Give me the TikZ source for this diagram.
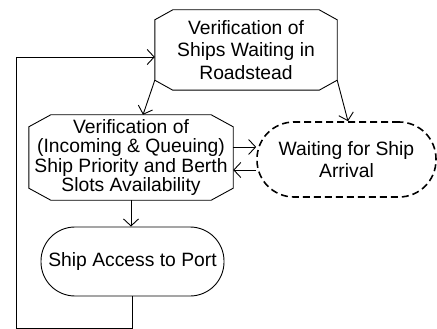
\documentclass[tikz,border=0pt]{standalone}
\usepackage{fontspec}
\setmainfont{Liberation Sans}
\usetikzlibrary{arrows.meta,calc}
\begin{document}
\begin{tikzpicture}[x=1pt,y=1pt,
  lbl/.style={font=\fontsize{19.3}{22.5}\selectfont, align=center, inner sep=0pt},
  outline/.style={draw, line width=0.9pt},
  flow/.style={draw, line width=0.9pt, -{Straight Barb[length=7pt,width=15pt,line width=0.9pt]}},
  stadium/.style={outline, rectangle, rounded corners=#1},
  waitbox/.style={draw, line width=1.6pt, dash pattern=on 7pt off 4pt, rectangle, rounded corners=37pt}
]
\useasboundingbox (0,0) rectangle (437,-329);

% process nodes
\node[lbl, minimum width=182pt, minimum height=80pt] (top) at (246,-50)
  {Verification of\\Ships Waiting in\\Roadstead};
\node[lbl, font=\fontsize{19.3}{19.5}\selectfont, minimum width=204pt, minimum height=85pt] (mid) at (131,-157.5)
  {Verification of\\(Incoming \& Queuing)\\Ship Priority and Berth\\Slots Availability};
\node[lbl, waitbox, minimum width=179pt, minimum height=75pt] (wait) at (346.5,-159.5)
  {Waiting for Ship\\Arrival};
\node[lbl, stadium=34pt, minimum width=183pt, minimum height=69pt] (ship) at (132.5,-261.5)
  {Ship Access to Port};

% chamfered outlines of the two verification steps
\draw[outline]
  ($(top.north west)+(18,0)$) -- ($(top.north east)+(-18,0)$) --
  ($(top.north east)+(0,-10)$) -- ($(top.south east)+(0,10)$) --
  ($(top.south east)+(-18,0)$) -- ($(top.south west)+(18,0)$) --
  ($(top.south west)+(0,10)$) -- ($(top.north west)+(0,-10)$) -- cycle;
\draw[outline]
  ($(mid.north west)+(22,0)$) -- ($(mid.north east)+(-22,0)$) --
  ($(mid.north east)+(0,-12)$) -- ($(mid.south east)+(0,12)$) --
  ($(mid.south east)+(-22,0)$) -- ($(mid.south west)+(22,0)$) --
  ($(mid.south west)+(0,12)$) -- ($(mid.north west)+(0,-12)$) -- cycle;

% connectors
\draw[flow] ($(top.south west)+(0,10)$) -- ($(mid.north)+(12,0)$);
\draw[flow] ($(top.south east)+(0,10)$) -- ($(wait.north)+(1.5,0)$);
\draw[flow] ($(mid.east)+(0,10.5)$) -- ($(wait.west)+(0,12.5)$);
\draw[flow] ($(wait.west)+(0,-10.5)$) -- ($(mid.east)+(0,-12.5)$);
\draw[flow] (mid.south) -- (mid.south |- ship.north);

% feedback loop back to the roadstead check
\coordinate (loopcorner) at (16,-328);
\draw[flow] (ship.south) |- (loopcorner) |- ($(top.west)+(0,-7)$);
\end{tikzpicture}
\end{document}
